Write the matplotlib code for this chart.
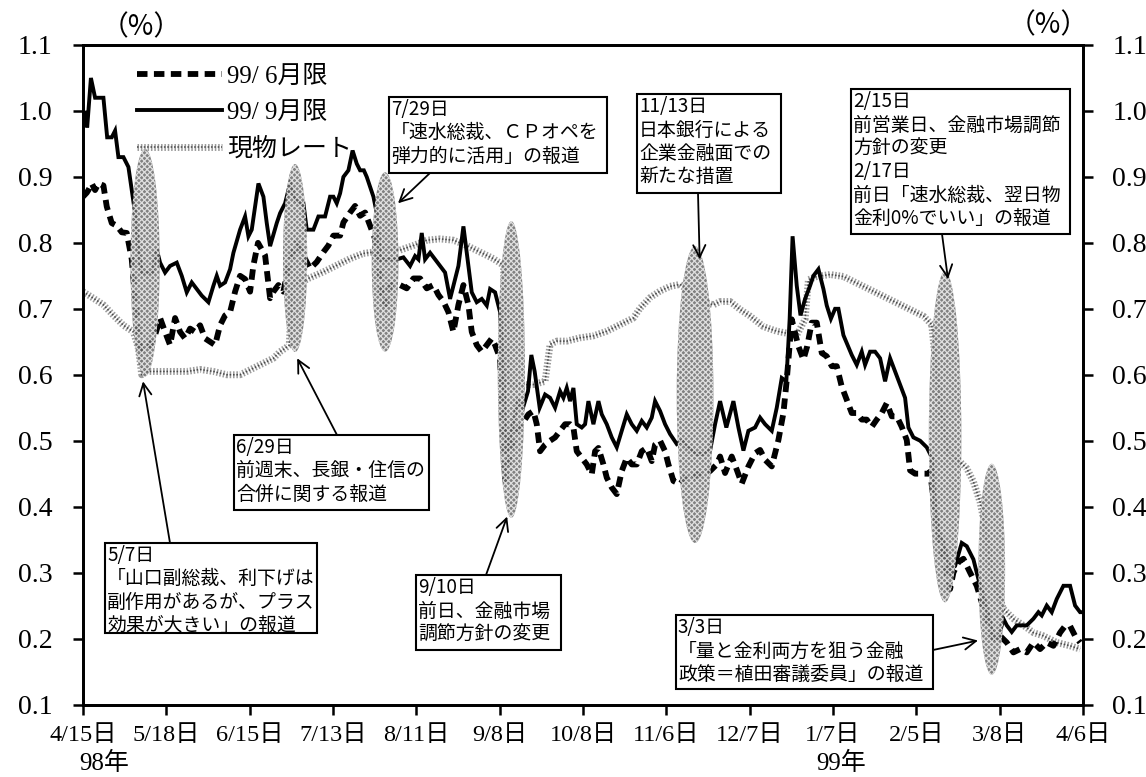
import matplotlib
matplotlib.use("Agg")
import matplotlib.pyplot as plt
import matplotlib.patheffects as pe
from matplotlib.patches import Ellipse, Rectangle

# ---------------- data (x = business-day index from 98/4/15) ----------------
tick_labels = ['4/15日', '5/18日', '6/15日', '7/13日', '8/11日', '9/8日', '10/8日',
               '11/6日', '12/7日', '1/7日', '2/5日', '3/8日', '4/6日']
series_labels = ['99/ 6月限', '99/ 9月限', '現物レート']

sep_x = [0, 0.7, 1.0, 1.9, 2.9, 4.9, 5.8, 6.9, 7.7, 8.5, 9.7, 10.9, 11.7, 12.5, 13.3,
         14.1, 15.3, 16.7, 17.7, 18.5, 19.7, 20.9, 22.5, 23.7, 24.9, 26.1, 27.3, 28.5,
         30.1, 31.3, 32.1, 32.9, 34.1, 35.3, 36.1, 37.7, 38.9, 39.7, 40.5, 42.1, 43.3,
         44.1, 44.9, 46.5, 47.3, 48.5, 49.7, 50.9, 52.1, 52.9, 53.7, 55.3, 56.5, 58.1,
         59.3, 60.1, 60.9, 61.7, 62.5, 63.7, 64.7, 65.7, 66.5, 67.4, 68.1, 68.9, 69.7,
         70.5, 70.9, 71.3, 75.3, 76.9, 78.5, 79.7, 80.5, 81.3, 82.1, 83.3, 84.5, 85.7,
         86.9, 88.1, 88.9, 90.1, 91.3, 92.5, 93.3, 94.5, 95.7, 96.9, 97.7, 98.9, 100.1,
         100.9, 101.6, 103.2, 104.4, 105.6, 106.8, 107.6, 108.4, 109.6, 110.9, 112.1,
         113.3, 114.5, 115.3, 116.1, 116.9, 117.7, 118.5, 119.7, 120.5, 121.3, 122.5,
         123.7, 124.5, 125.7, 126.9, 128.1, 129.3, 130.5, 131.7, 132.9, 134.1, 135.3,
         136.5, 137.3, 138.5, 139.7, 140.9, 142.5, 143.7, 144.9, 146.1, 147.3, 148.9,
         150.5, 151.7, 152.9, 154.4, 156.1, 157.3, 158.5, 159.7, 161.3, 162.5, 163.7,
         165.3, 166.5, 167.7, 168.8, 169.6, 170.3, 171.3, 172.2, 173.3, 174.5, 175.3,
         176.5, 177.7, 178.5, 179.5, 180.5, 181.3, 182.5, 184.5, 185.7, 186.9, 187.7,
         188.9, 190.1, 191.3, 192.5, 193.7, 194.9, 196.1, 197.3, 198.1, 199.3, 200.9,
         202.5, 203.7, 204.5, 205.3, 206.5, 208.1, 209.3, 210.9, 212.1, 212.9, 213.7,
         214.9, 216.1, 217.3, 218.5, 219.7, 220.9, 221.7, 222.9, 224.1, 225.3, 226.5,
         228.1, 229.3, 230.1, 231.3, 232.5, 233.7, 235.3, 236.9, 238.1, 239.3, 240]
sep_y = [0.98, 1.00, 0.975, 1.05, 1.02, 1.02, 0.96, 0.96, 0.97, 0.93, 0.93, 0.915, 0.88,
         0.845, 0.79, 0.755, 0.755, 0.755, 0.79, 0.77, 0.755, 0.765, 0.77, 0.75, 0.725,
         0.74, 0.73, 0.72, 0.71, 0.735, 0.75, 0.735, 0.74, 0.76, 0.785, 0.82, 0.84, 0.81,
         0.82, 0.89, 0.87, 0.83, 0.795, 0.83, 0.845, 0.86, 0.89, 0.865, 0.86, 0.86, 0.82,
         0.82, 0.84, 0.84, 0.87, 0.87, 0.86, 0.875, 0.90, 0.91, 0.94, 0.92, 0.91, 0.91,
         0.90, 0.885, 0.87, 0.845, 0.81, 0.775, 0.775, 0.778, 0.765, 0.78, 0.775, 0.815,
         0.775, 0.785, 0.775, 0.765, 0.755, 0.715, 0.735, 0.765, 0.825, 0.765, 0.725,
         0.71, 0.715, 0.705, 0.73, 0.725, 0.695, 0.60, 0.48, 0.525, 0.56, 0.55, 0.575,
         0.63, 0.605, 0.55, 0.57, 0.565, 0.55, 0.575, 0.565, 0.58, 0.56, 0.58, 0.525,
         0.52, 0.525, 0.56, 0.525, 0.56, 0.54, 0.525, 0.505, 0.49, 0.515, 0.54, 0.525,
         0.515, 0.53, 0.52, 0.535, 0.56, 0.545, 0.525, 0.51, 0.495, 0.50, 0.49, 0.485,
         0.48, 0.48, 0.485, 0.525, 0.56, 0.52, 0.56, 0.52, 0.485, 0.515, 0.52, 0.535,
         0.525, 0.515, 0.55, 0.595, 0.59, 0.685, 0.81, 0.735, 0.69, 0.715, 0.735, 0.75,
         0.76, 0.73, 0.705, 0.685, 0.70, 0.70, 0.66, 0.63, 0.615, 0.635, 0.615, 0.635,
         0.635, 0.625, 0.59, 0.625, 0.605, 0.585, 0.565, 0.52, 0.505, 0.50, 0.49, 0.475,
         0.40, 0.36, 0.345, 0.305, 0.31, 0.345, 0.34, 0.33, 0.32, 0.29, 0.265, 0.235,
         0.205, 0.20, 0.23, 0.22, 0.21, 0.22, 0.22, 0.22, 0.23, 0.24, 0.235, 0.25, 0.24,
         0.26, 0.28, 0.28, 0.25, 0.24, 0.24]

jun_x = [0, 0.9, 1.3, 2.1, 2.9, 3.7, 4.9, 5.7, 6.9, 8.1, 9.3, 10.5, 11.7, 12.5, 13.7,
         14.9, 16.1, 17.3, 18.5, 19.7, 20.9, 22.1, 23.3, 24.5, 25.7, 26.9, 28.1, 29.3,
         30.5, 31.7, 32.9, 34.1, 35.3, 36.5, 37.7, 38.9, 40.1, 40.9, 42.0, 43.7, 44.9,
         45.7, 46.9, 48.1, 49.5, 51.3, 54.5, 56.1, 57.7, 58.9, 60.1, 61.7, 62.5, 64.1,
         65.3, 66.5, 67.7, 68.9, 70.1, 70.9, 71.7, 72.5, 73.7, 76.1, 77.7, 79.3, 80.9,
         82.5, 84.1, 85.3, 86.5, 87.7, 88.9, 90.1, 91.3, 92.5, 93.3, 94.5, 95.7, 96.9,
         98.1, 98.9, 100.1, 101.3, 102.5, 104.1, 105.3, 106.9, 108.1, 108.9, 109.7,
         110.9, 112.1, 113.3, 114.5, 115.7, 116.9, 117.7, 118.5, 119.7, 120.9, 122.1,
         122.9, 123.7, 124.9, 125.7, 126.9, 128.1, 129.3, 130.5, 131.7, 132.9, 134.1,
         135.3, 136.5, 137.3, 138.5, 139.7, 140.5, 141.7, 143.3, 144.5, 145.7, 147.3,
         148.9, 150.5, 152.1, 152.9, 154.1, 155.7, 156.9, 158.1, 159.7, 161.3, 162.5,
         163.7, 165.3, 166.9, 168.1, 168.9, 170.1, 171.7, 172.9, 173.8, 174.9, 176.1,
         177.3, 178.5, 179.7, 180.9, 182.1, 183.3, 184.5, 185.7, 186.9, 188.1, 189.3,
         190.5, 191.7, 192.9, 194.1, 195.3, 196.5, 197.7, 198.5, 199.7, 200.9, 202.9,
         203.3, 204.9, 206.5, 208.1, 208.9, 210.1, 211.3, 212.9, 214.5, 215.7, 216.9,
         218.5, 220.1, 221.7, 223.3, 224.9, 226.5, 228.1, 229.7, 231.3, 232.9, 234.5,
         235.7, 236.9, 238.1, 239.3]
jun_y = [0.87, 0.876, 0.88, 0.89, 0.88, 0.89, 0.887, 0.855, 0.83, 0.826, 0.816, 0.815,
         0.775, 0.716, 0.64, 0.635, 0.645, 0.66, 0.686, 0.665, 0.645, 0.686, 0.665, 0.655,
         0.67, 0.665, 0.675, 0.655, 0.65, 0.645, 0.675, 0.69, 0.695, 0.726, 0.75, 0.745,
         0.726, 0.766, 0.80, 0.781, 0.716, 0.726, 0.736, 0.726, 0.77, 0.80, 0.761, 0.771,
         0.786, 0.796, 0.811, 0.811, 0.831, 0.846, 0.856, 0.841, 0.846, 0.826, 0.806,
         0.776, 0.716, 0.706, 0.736, 0.736, 0.731, 0.746, 0.746, 0.731, 0.736, 0.721,
         0.711, 0.695, 0.665, 0.706, 0.736, 0.706, 0.665, 0.645, 0.635, 0.645, 0.655,
         0.645, 0.625, 0.44, 0.484, 0.515, 0.525, 0.54, 0.545, 0.525, 0.484, 0.494, 0.50,
         0.505, 0.515, 0.525, 0.525, 0.52, 0.484, 0.474, 0.464, 0.449, 0.484, 0.489,
         0.464, 0.444, 0.429, 0.419, 0.454, 0.474, 0.464, 0.464, 0.484, 0.489, 0.469,
         0.494, 0.50, 0.484, 0.464, 0.439, 0.434, 0.444, 0.439, 0.449, 0.449, 0.454,
         0.464, 0.476, 0.451, 0.476, 0.456, 0.435, 0.461, 0.481, 0.486, 0.471, 0.461,
         0.501, 0.542, 0.592, 0.684, 0.643, 0.623, 0.643, 0.679, 0.679, 0.633, 0.628,
         0.613, 0.613, 0.582, 0.562, 0.542, 0.542, 0.532, 0.532, 0.521, 0.532, 0.542,
         0.557, 0.537, 0.537, 0.521, 0.501, 0.455, 0.45, 0.45, 0.45, 0.453, 0.372, 0.321,
         0.275, 0.30, 0.316, 0.321, 0.30, 0.28, 0.255, 0.23, 0.20, 0.204, 0.194, 0.179,
         0.184, 0.179, 0.194, 0.184, 0.194, 0.189, 0.209, 0.219, 0.219, 0.204, 0.194]

spot_x = [0, 2.5, 4.9, 7.3, 9.7, 12.1, 13.3, 14.1, 15.3, 18.5, 21.7, 24.9, 28.1, 31.3,
          34.5, 37.7, 39.3, 40.9, 42.5, 44.1, 45.7, 47.3, 48.5, 49.5, 50.3, 52.3, 54.1,
          57.7, 60.9, 64.1, 67.3, 69.7, 72.9, 76.1, 79.3, 82.5, 85.7, 88.9, 92.1, 95.3,
          98.5, 100.9, 102.0, 104.9, 108.0, 110.9, 112.1, 113.7, 116.1, 119.3, 122.5,
          125.7, 128.9, 132.1, 133.7, 136.1, 138.5, 140.9, 143.3, 145.7, 148.1, 151.3,
          152.9, 155.3, 157.7, 160.1, 163.3, 166.5, 168.9, 171.3, 173.3, 174.1, 176.1,
          179.3, 182.5, 185.7, 188.9, 192.1, 195.3, 198.5, 201.7, 203.7, 205.7, 207.7,
          210.5, 212.1, 213.7, 215.3, 216.1, 218.0, 220.9, 223.3, 225.7, 228.1, 230.5,
          233.7, 236.9, 239.3]
spot_y = [0.726, 0.716, 0.706, 0.69, 0.675, 0.665, 0.64, 0.60, 0.605, 0.605, 0.605,
          0.605, 0.608, 0.605, 0.60, 0.60, 0.605, 0.61, 0.615, 0.62, 0.625, 0.635, 0.64,
          0.645, 0.74, 0.74, 0.746, 0.756, 0.766, 0.776, 0.784, 0.786, 0.79, 0.789, 0.796,
          0.804, 0.806, 0.804, 0.796, 0.786, 0.776, 0.766, 0.585, 0.585, 0.585, 0.59,
          0.646, 0.651, 0.651, 0.656, 0.659, 0.666, 0.676, 0.686, 0.701, 0.717, 0.727,
          0.734, 0.737, 0.725, 0.712, 0.706, 0.711, 0.711, 0.699, 0.689, 0.673, 0.666,
          0.663, 0.66, 0.684, 0.744, 0.749, 0.752, 0.749, 0.739, 0.729, 0.719, 0.709,
          0.699, 0.689, 0.676, 0.55, 0.48, 0.468, 0.458, 0.438, 0.407, 0.382, 0.30, 0.245,
          0.23, 0.22, 0.209, 0.204, 0.194, 0.189, 0.184]

# ---------------- event annotations ----------------
event_texts = [
    "5/7日\n「山口副総裁、利下げは\n副作用があるが、プラス\n効果が大きい」の報道",
    "6/29日\n前週末、長銀・住信の\n合併に関する報道",
    "7/29日\n「速水総裁、ＣＰオペを\n弾力的に活用」の報道",
    "9/10日\n前日、金融市場\n調節方針の変更",
    "11/13日\n日本銀行による\n企業金融面での\n新たな措置",
    "2/15日\n前営業日、金融市場調節\n方針の変更\n2/17日\n前日「速水総裁、翌日物\n金利0%でいい」の報道",
    "3/3日\n「量と金利両方を狙う金融\n政策＝植田審議委員」の報道",
]
# box (left, top, right, bottom) in image pixels
event_boxes = [(105, 543, 317, 633), (234, 435, 429, 510), (389, 97, 607, 173),
               (416, 575, 561, 650), (637, 94, 781, 193), (851, 89, 1070, 234),
               (676, 615, 933, 689)]
# arrow start in image pixels, arrow tip in data coords
arrow_from = [(170, 543), (337, 435), (430, 173), (486, 575), (698, 193), (942, 234),
              (933, 650)]
arrow_to = [(14.4, 0.59), (51.4, 0.625), (75.6, 0.86), (101.8, 0.385), (148.0, 0.775),
            (207.6, 0.745), (214.8, 0.197)]
# shaded ellipses: centre (x, y), width, height in data units
ellipses = [(14.9, 0.77, 7.0, 0.345), (50.9, 0.777, 5.8, 0.285), (72.5, 0.771, 6.4, 0.272),
            (102.8, 0.608, 6.5, 0.45), (146.9, 0.57, 8.8, 0.45), (206.9, 0.506, 7.8, 0.502),
            (218.1, 0.305, 6.4, 0.32)]

W, H = 1146, 777
SERIF = ['Liberation Serif', 'Noto Sans CJK JP']
GOTHIC = ['Noto Sans CJK JP', 'DejaVu Sans']
plt.rcParams['font.family'] = SERIF
plt.rcParams['hatch.linewidth'] = 0.9


def fp(x, y):
    return (x / W, 1 - y / H)


fig = plt.figure(figsize=(W / 100, H / 100), dpi=100)
ax_l, ax_r, ax_t, ax_b = 83, 1083, 45, 704.5
ax = fig.add_axes([ax_l / W, 1 - ax_b / H, (ax_r - ax_l) / W, (ax_b - ax_t) / H])

l_spot, = ax.plot(spot_x, spot_y, color='#4a4a4a', lw=1.1, ls=(0, (1, 1.2)), zorder=2,
                  path_effects=[pe.Stroke(linewidth=5, foreground='#9c9c9c'), pe.Normal()])
l_jun, = ax.plot(jun_x, jun_y, color='black', lw=4.2, ls=(0, (1.8, 1.1)),
                 dash_capstyle='butt', zorder=3)
l_sep, = ax.plot(sep_x, sep_y, color='black', lw=2.8, zorder=4, solid_joinstyle='miter')

for cx, cy, w, h in ellipses:
    e = Ellipse((cx, cy), w, h, facecolor=(0.42, 0.42, 0.42, 0.85),
                edgecolor=(1, 1, 1, 0.75), hatch='xxxxxx', lw=0, zorder=5)
    ax.add_patch(e)

ax.set_xlim(0, 240)
ax.set_ylim(0.1, 1.1)
xt = list(range(0, 241, 20))
ax.set_xticks(xt)
ax.set_xticklabels(tick_labels)
yt = [round(0.1 * i, 1) for i in range(1, 12)]
ax.set_yticks(yt)
ax.set_yticklabels([f"{v:.1f}" for v in yt])
for sp in ax.spines.values():
    sp.set_linewidth(2.0)
ax.tick_params(axis='y', direction='out', length=7, width=1.8, pad=15, labelsize=20)
ax.tick_params(axis='x', direction='out', length=7, width=1.8, pad=8, labelsize=17.5)

ax2 = ax.twinx()
ax2.set_ylim(0.1, 1.1)
ax2.set_yticks(yt)
ax2.set_yticklabels([f"{v:.1f}" for v in yt])
ax2.tick_params(axis='y', direction='out', length=7, width=1.8, pad=14, labelsize=20)
for sp in ax2.spines.values():
    sp.set_linewidth(2.0)

leg = ax.legend([l_jun, l_sep, l_spot], series_labels, loc='upper left',
                bbox_to_anchor=((137 - ax_l) / (ax_r - ax_l), 1 - (65 - ax_t) / (ax_b - ax_t)),
                frameon=False, handlelength=3.4, handletextpad=0.2, borderpad=0,
                borderaxespad=0, labelspacing=0.55, prop={'family': SERIF, 'size': 18})
leg.set_zorder(6)

# boxes with arrows
for txt, (bx0, by0, bx1, by1), (sx, sy), tgt in zip(event_texts, event_boxes, arrow_from, arrow_to):
    rect = Rectangle(fp(bx0, by1), (bx1 - bx0) / W, (by1 - by0) / H,
                     transform=fig.transFigure, facecolor='white', edgecolor='black',
                     lw=1.5, zorder=8)
    fig.add_artist(rect)
    fig.text(*fp(bx0 + 2, by0 + 2), txt, ha='left', va='top', fontsize=13.6,
             family=GOTHIC, linespacing=1.15, zorder=9)
    ax.annotate('', xy=tgt, xycoords='data', xytext=fp(sx, sy),
                textcoords='figure fraction',
                arrowprops=dict(arrowstyle='->', lw=1.3, color='black', shrinkA=0,
                                shrinkB=0, mutation_scale=22), zorder=7,
                annotation_clip=False)

fig.text(*fp(141, 27), '（%）', ha='center', va='center', fontsize=20, family=GOTHIC)
fig.text(*fp(1048, 25), '（%）', ha='center', va='center', fontsize=20, family=GOTHIC)
fig.text(*fp(104, 763), '98年', ha='center', va='center', fontsize=18)
fig.text(*fp(841, 763), '99年', ha='center', va='center', fontsize=18)

fig.savefig('out.png', dpi=100, facecolor='white')
